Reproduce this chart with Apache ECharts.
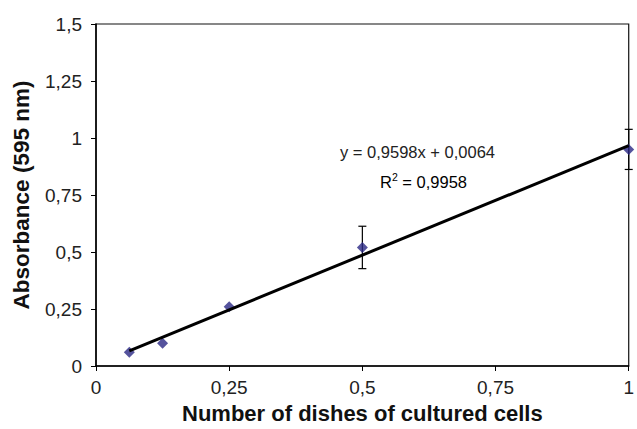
<!DOCTYPE html>
<html>
<head>
<meta charset="utf-8">
<script src="https://cdn.jsdelivr.net/npm/echarts@6/dist/echarts.min.js"></script>
<style>
  html, body { margin: 0; padding: 0; background: #fff; }
  #chart { width: 637px; height: 429px; }
</style>
</head>
<body>
<div id="chart"></div>
<script>
  // dishes of cultured cells (x) and absorbance at 595 nm (y)
  const dishes = [0.0625, 0.125, 0.25, 0.5, 1];
  const absorbance = [0.06, 0.10, 0.26, 0.52, 0.95];
  // +/- error for each point (0 = bar too small to see)
  const errors = [0, 0, 0, 0.093, 0.088];
  // linear trendline as reported on the chart
  const slope = 0.9598;
  const intercept = 0.0064;
  const equationText = 'y = 0,9598x + 0,0064';
  const r2Text = '0,9958';

  const comma = v => String(v).replace('.', ',');
  const font = '"Liberation Sans", Arial, sans-serif';

  let points = dishes.map((x, i) => [x, absorbance[i]]);
  let errorData = dishes.map((x, i) => [x, absorbance[i] - errors[i], absorbance[i] + errors[i]])
    .filter((d, i) => errors[i] > 0);
  let xFirst = dishes[0], xLast = dishes[dishes.length - 1];
  let trend = [[xFirst, slope * xFirst + intercept], [xLast, slope * xLast + intercept]];

  let chart = echarts.init(document.getElementById('chart'), null, { renderer: 'svg' });

  chart.setOption({
    animation: false,
    grid: {
      left: 96, top: 24, right: 4, bottom: 58,
      show: true, borderColor: '#111', borderWidth: 1.2, backgroundColor: '#fff'
    },
    xAxis: {
      type: 'value', min: 0, max: 1, interval: 0.25,
      name: 'Number of dishes of cultured cells',
      nameLocation: 'middle', nameGap: 36,
      nameTextStyle: { fontFamily: font, fontWeight: 'bold', fontSize: 22, color: '#111' },
      axisLine: { lineStyle: { color: '#000', width: 1.5 } },
      axisTick: { length: 5, lineStyle: { color: '#000' } },
      axisLabel: { formatter: comma, fontFamily: font, fontSize: 19, color: '#222', margin: 12 },
      splitLine: { show: false }
    },
    yAxis: {
      type: 'value', min: 0, max: 1.5, interval: 0.25,
      name: 'Absorbance (595 nm)',
      nameLocation: 'middle', nameGap: 63,
      nameTextStyle: { fontFamily: font, fontWeight: 'bold', fontSize: 22.5, color: '#111' },
      axisLine: { lineStyle: { color: '#000', width: 1.5 } },
      axisTick: { length: 5, lineStyle: { color: '#000' } },
      axisLabel: { formatter: comma, fontFamily: font, fontSize: 19, color: '#222', margin: 14 },
      splitLine: { show: false }
    },
    graphic: [
      {
        type: 'text', left: 340, top: 143,
        style: { text: equationText, font: '16.5px ' + font, fill: '#222' }
      },
      {
        type: 'text', left: 380, top: 171,
        style: {
          text: '{b|R}{sup|2}{b| = ' + r2Text + '}',
          rich: {
            b: { fontFamily: font, fontSize: 16.5, color: '#222', verticalAlign: 'bottom' },
            sup: { fontFamily: font, fontSize: 10.5, color: '#222', verticalAlign: 'top', padding: [0, 0, 8, 0] }
          }
        }
      }
    ],
    series: [
      {
        // error bars
        type: 'custom',
        data: errorData,
        z: 2,
        renderItem: function (params, api) {
          let x = api.value(0);
          let lo = api.coord([x, api.value(1)]);
          let hi = api.coord([x, api.value(2)]);
          let cap = 4;
          let style = { stroke: '#000', lineWidth: 1.2 };
          return {
            type: 'group',
            children: [
              { type: 'line', shape: { x1: hi[0], y1: hi[1], x2: lo[0], y2: lo[1] }, style: style },
              { type: 'line', shape: { x1: hi[0] - cap, y1: hi[1], x2: hi[0] + cap, y2: hi[1] }, style: style },
              { type: 'line', shape: { x1: lo[0] - cap, y1: lo[1], x2: lo[0] + cap, y2: lo[1] }, style: style }
            ]
          };
        }
      },
      {
        type: 'scatter',
        data: points,
        symbol: 'diamond',
        symbolSize: 11,
        z: 3,
        itemStyle: { color: '#2b2884' }
      },
      {
        // trendline
        type: 'line',
        data: trend,
        symbol: 'none',
        z: 4,
        lineStyle: { color: '#000', width: 3 }
      }
    ]
  });
</script>
</body>
</html>
